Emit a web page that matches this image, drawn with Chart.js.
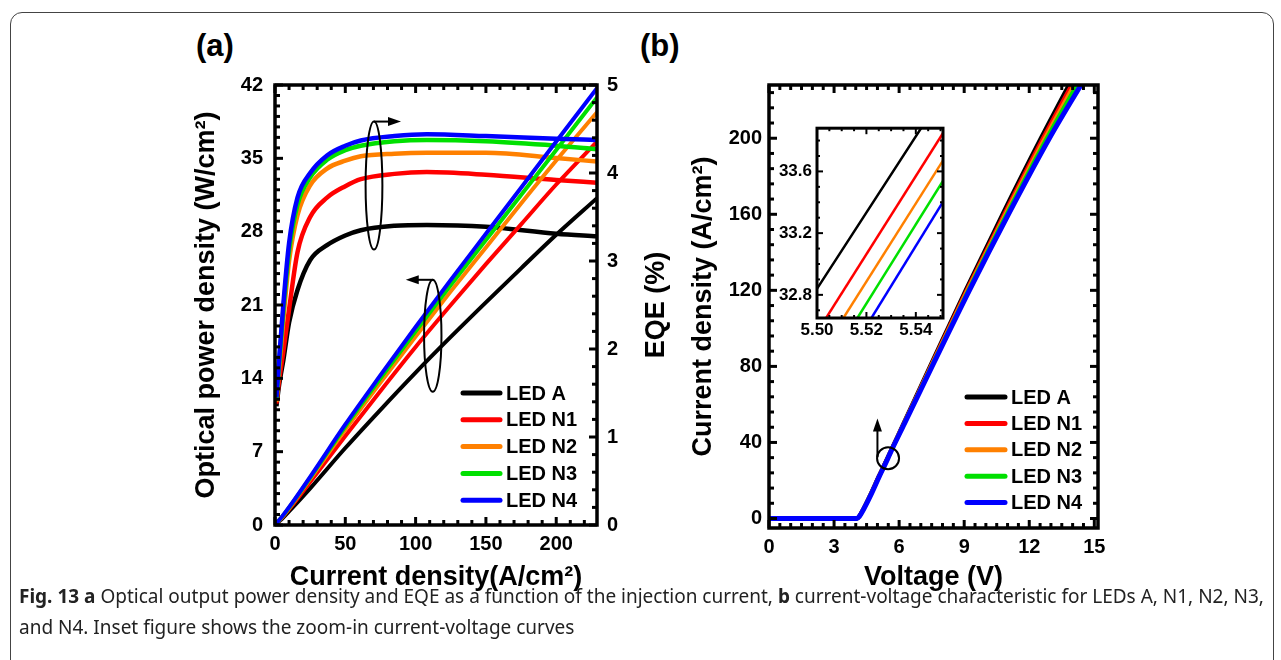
<!DOCTYPE html>
<html>
<head>
<meta charset="utf-8">
<script src="https://cdn.jsdelivr.net/npm/chart.js@4.4.1/dist/chart.umd.min.js"></script>
<style>
  body { margin: 0; width: 1281px; height: 660px; background: #fff; position: relative; overflow: hidden; font-family: "Liberation Sans", Arial, sans-serif; }
  .frame { position: absolute; left: 10px; top: 12px; width: 1262px; height: 700px; border: 1.5px solid #444; border-radius: 12px; }
  canvas { position: absolute; }
  #chartA { left: 150px; top: 60px; }
  #chartB { left: 660px; top: 60px; }
  #inset { left: 757px; top: 113px; }
  .tag { position: absolute; font-weight: bold; font-size: 31px; color: #000; }
  .caption { position: absolute; left: 19px; top: 581px; font-family: "Noto Sans", sans-serif; font-size: 19px; line-height: 31px; color: #222; white-space: nowrap; }
</style>
</head>
<body>
<div class="frame"></div>
<div class="tag" style="left:196px;top:28px">(a)</div>
<div class="tag" style="left:640px;top:28px">(b)</div>
<canvas id="chartA" width="560" height="540"></canvas>
<canvas id="chartB" width="460" height="540"></canvas>
<canvas id="inset" width="200" height="235"></canvas>
<div class="caption"><b>Fig. 13 a</b> Optical output power density and EQE as a function of the injection current, <b>b</b> current-voltage characteristic for LEDs A, N1, N2, N3,<br>and N4. Inset figure shows the zoom-in current-voltage curves</div>

<script>
// LED names and colours
var ledNames = ["LED A", "LED N1", "LED N2", "LED N3", "LED N4"];
var ledColors = ["#000000", "#ff0000", "#ff8000", "#00e000", "#0000ff"];

// (a) optical power density (W/cm2) vs current density
var powCurrent = [0, 5, 10, 25, 50, 75, 100, 125, 150, 175, 200, 229];
var powA  = [0, 0.6, 1.3, 3.5, 7.35, 11.0, 14.55, 17.95, 21.25, 24.5, 27.7, 31.2];
var powN1 = [0, 0.7, 1.5, 4.1, 8.5, 12.8, 17.0, 21.0, 24.9, 28.7, 32.5, 36.6];
var powN2 = [0, 0.75, 1.6, 4.4, 9.1, 13.6, 18.0, 22.3, 26.5, 30.7, 34.8, 39.4];
var powN3 = [0, 0.78, 1.65, 4.5, 9.4, 14.0, 18.5, 22.9, 27.2, 31.5, 35.8, 40.8];
var powN4 = [0, 0.8, 1.7, 4.6, 9.6, 14.3, 18.9, 23.4, 27.8, 32.2, 36.6, 41.7];

// (a) EQE (%) vs current density
var eqeCurrent = [1, 3, 6, 10, 16, 25, 37, 50, 61, 85, 108, 150, 200, 229];
var eqeA  = [1.35, 1.6, 1.88, 2.3, 2.67, 3.01, 3.18, 3.29, 3.35, 3.40, 3.41, 3.39, 3.31, 3.28];
var eqeN1 = [1.38, 1.65, 1.98, 2.45, 3.1, 3.5, 3.72, 3.85, 3.93, 3.99, 4.01, 3.98, 3.92, 3.89];
var eqeN2 = [1.4, 1.8, 2.35, 3.0, 3.52, 3.86, 4.05, 4.14, 4.19, 4.22, 4.23, 4.23, 4.17, 4.13];
var eqeN3 = [1.42, 1.85, 2.45, 3.12, 3.64, 3.95, 4.15, 4.26, 4.31, 4.36, 4.375, 4.36, 4.31, 4.27];
var eqeN4 = [1.45, 1.9, 2.52, 3.2, 3.72, 4.0, 4.2, 4.31, 4.37, 4.42, 4.44, 4.42, 4.39, 4.375];

// (b) current density (A/cm2) vs voltage for each LED
var ivCurrent = [0, 0, 1, 5, 12, 22, 32, 34, 50, 80, 120, 160, 200, 240];
var voltA  = [0, 4.05, 4.15, 4.35, 4.65, 5.05, 5.466, 5.547, 6.2, 7.42, 9.06, 10.76, 12.53, 14.38];
var voltN1 = [0, 4.05, 4.15, 4.35, 4.66, 5.06, 5.478, 5.557, 6.22, 7.45, 9.11, 10.84, 12.63, 14.52];
var voltN2 = [0, 4.05, 4.15, 4.36, 4.67, 5.07, 5.485, 5.564, 6.23, 7.47, 9.15, 10.9, 12.72, 14.65];
var voltN3 = [0, 4.06, 4.16, 4.36, 4.67, 5.08, 5.491, 5.569, 6.24, 7.49, 9.19, 10.96, 12.81, 14.8];
var voltN4 = [0, 4.06, 4.16, 4.37, 4.68, 5.08, 5.497, 5.574, 6.25, 7.52, 9.24, 11.04, 12.93, 15.02];

// tick labels
var curTicks = [0, 50, 100, 150, 200];
var powTicks = [0, 7, 14, 21, 28, 35, 42];
var eqeTicks = [0, 1, 2, 3, 4, 5];
var voltTicks = [0, 3, 6, 9, 12, 15];
var ivTicks = [0, 40, 80, 120, 160, 200];
var insetVoltTicks = [5.50, 5.52, 5.54];
var insetCurTicks = [32.8, 33.2, 33.6];

Chart.defaults.font.family = "'Liberation Sans', Arial, sans-serif";
Chart.defaults.color = "#000";

function pts(xs, ys) {
  return xs.map(function (x, i) { return { x: x, y: ys[i] }; });
}
function fixedTicks(vals) {
  return function (s) { s.ticks = vals.map(function (v) { return { value: v }; }); };
}

// frame + inward ticks on all four sides
var frameTicks = {
  id: "frameTicks",
  afterDatasetsDraw: function (chart, args, o) {
    var a = chart.chartArea, ctx = chart.ctx;
    ctx.save();
    ctx.strokeStyle = "#000";
    ctx.lineWidth = o.tickWidth;
    o.sides.forEach(function (s) {
      var sc = chart.scales[s.scale];
      var n = Math.round((sc.max - s.start) / s.minor);
      for (var k = 0; k <= n; k++) {
        var v = s.start + k * s.minor;
        if (v < sc.min - 1e-9 || v > sc.max + 1e-9) continue;
        var r = v / s.major;
        var len = Math.abs(r - Math.round(r)) < 1e-6 ? o.majorLen : o.minorLen;
        var p = sc.getPixelForValue(v);
        ctx.beginPath();
        if (s.edge === "bottom") { ctx.moveTo(p, a.bottom); ctx.lineTo(p, a.bottom - len); }
        if (s.edge === "top") { ctx.moveTo(p, a.top); ctx.lineTo(p, a.top + len); }
        if (s.edge === "left") { ctx.moveTo(a.left, p); ctx.lineTo(a.left + len, p); }
        if (s.edge === "right") { ctx.moveTo(a.right, p); ctx.lineTo(a.right - len, p); }
        ctx.stroke();
      }
    });
    ctx.lineWidth = o.frameWidth;
    ctx.strokeRect(a.left, a.top, a.right - a.left, a.bottom - a.top);
    ctx.restore();
  }
};

var ledLegend = {
  id: "ledLegend",
  afterDatasetsDraw: function (chart, args, o) {
    var ctx = chart.ctx;
    ctx.save();
    ctx.font = "bold 20px 'Liberation Sans', Arial, sans-serif";
    ctx.textBaseline = "middle";
    ledNames.forEach(function (name, i) {
      var y = o.y + i * o.dy;
      ctx.strokeStyle = ledColors[i];
      ctx.lineWidth = 5;
      ctx.lineCap = "round";
      ctx.beginPath(); ctx.moveTo(o.x, y); ctx.lineTo(o.x + o.len, y); ctx.stroke();
      ctx.fillStyle = "#000";
      ctx.fillText(name, o.x + o.len + 6, y + 1);
    });
    ctx.restore();
  }
};

function arrowHead(ctx, x, y, dx, dy) {
  // filled head pointing along (dx, dy)
  var px = -dy, py = dx;
  ctx.beginPath();
  ctx.moveTo(x, y);
  ctx.lineTo(x - dx * 13 + px * 4.5, y - dy * 13 + py * 4.5);
  ctx.lineTo(x - dx * 13 - px * 4.5, y - dy * 13 - py * 4.5);
  ctx.closePath();
  ctx.fill();
}

function drawLoop(ctx, cx, cy, rx, ry, dir) {
  ctx.save();
  ctx.lineWidth = 2;
  ctx.strokeStyle = "#000";
  ctx.fillStyle = "#000";
  ctx.beginPath(); ctx.ellipse(cx, cy, rx, ry, 0, 0, 2 * Math.PI); ctx.stroke();
  var ty = cy - ry, tx = cx + dir * 27;
  ctx.beginPath(); ctx.moveTo(cx, ty); ctx.lineTo(tx - dir * 8, ty); ctx.stroke();
  arrowHead(ctx, tx, ty, dir, 0);
  ctx.restore();
}

var marksA = {
  id: "marksA",
  afterDatasetsDraw: function (chart) {
    var ctx = chart.ctx, sx = chart.scales.x, sy = chart.scales.y, a = chart.chartArea;
    drawLoop(ctx, sx.getPixelForValue(70.4), sy.getPixelForValue(32.4), 8.4, 64, 1);
    drawLoop(ctx, sx.getPixelForValue(112.2), sy.getPixelForValue(18.06), 8.7, 56, -1);
    // right axis title, reading upwards
    ctx.save();
    ctx.font = "bold 27px 'Liberation Sans', Arial, sans-serif";
    ctx.fillStyle = "#000";
    ctx.textAlign = "center";
    ctx.textBaseline = "middle";
    ctx.translate(507, (a.top + a.bottom) / 2);
    ctx.rotate(-Math.PI / 2);
    ctx.fillText("EQE (%)", 0, 0);
    ctx.restore();
  }
};

var marksB = {
  id: "marksB",
  afterDatasetsDraw: function (chart) {
    var ctx = chart.ctx, sx = chart.scales.x, sy = chart.scales.y;
    ctx.save();
    ctx.lineWidth = 2;
    ctx.strokeStyle = "#000";
    ctx.fillStyle = "#000";
    ctx.beginPath();
    ctx.arc(sx.getPixelForValue(5.49), sy.getPixelForValue(31.7), 11, 0, 2 * Math.PI);
    ctx.stroke();
    var ax = sx.getPixelForValue(5.0), y0 = sy.getPixelForValue(32.4), y1 = sy.getPixelForValue(52.6);
    ctx.beginPath(); ctx.moveTo(ax, y0); ctx.lineTo(ax, y1 + 8); ctx.stroke();
    arrowHead(ctx, ax, y1, 0, -1);
    ctx.restore();
  }
};

var tickFont = { weight: "bold", size: 20 };
var titleFont = { weight: "bold", size: 27 };
var noGrid = { display: false, drawTicks: false };

function lineSet(i, xs, ys, axis, width) {
  return {
    label: ledNames[i],
    data: pts(xs, ys),
    yAxisID: axis,
    borderColor: ledColors[i],
    borderWidth: width,
    pointRadius: 0,
    showLine: true,
    fill: false,
    cubicInterpolationMode: "monotone",
    order: 5 - i
  };
}

// ---------- (a) ----------
var powSets = [powA, powN1, powN2, powN3, powN4];
var eqeSets = [eqeA, eqeN1, eqeN2, eqeN3, eqeN4];
var dsA = [];
powSets.forEach(function (ys, i) { dsA.push(lineSet(i, powCurrent, ys, "y", 4)); });
eqeSets.forEach(function (ys, i) { dsA.push(lineSet(i, eqeCurrent, ys, "y2", 4.5)); });

new Chart(document.getElementById("chartA"), {
  type: "scatter",
  data: { datasets: dsA },
  options: {
    responsive: false,
    animation: false,
    layout: { padding: { top: 25, left: 0, right: 0, bottom: 0 } },
    plugins: {
      legend: { display: false },
      tooltip: { enabled: false },
      frameTicks: {
        tickWidth: 3, frameWidth: 3.5, majorLen: 8, minorLen: 5,
        sides: [
          { scale: "x", edge: "bottom", start: 0, major: 50, minor: 10 },
          { scale: "x", edge: "top", start: 0, major: 50, minor: 10 },
          { scale: "y", edge: "left", start: 0, major: 7, minor: 1 },
          { scale: "y2", edge: "right", start: 0, major: 1, minor: 0.2 }
        ]
      },
      ledLegend: { x: 313, y: 333, dy: 26.8, len: 37 }
    },
    scales: {
      x: {
        type: "linear", position: "bottom", min: 0, max: 229,
        afterBuildTicks: fixedTicks(curTicks),
        afterFit: function (s) { s.height = 75; },
        grid: noGrid, border: { display: false },
        ticks: { font: tickFont, padding: 7, maxRotation: 0 },
        title: { display: true, text: "Current density(A/cm²)", font: titleFont, padding: { top: 0, bottom: 6 } }
      },
      y: {
        type: "linear", position: "left", min: 0, max: 42,
        afterBuildTicks: fixedTicks(powTicks),
        afterFit: function (s) { s.width = 125; },
        grid: noGrid, border: { display: false },
        ticks: { font: tickFont, padding: 12 },
        title: { display: true, text: "Optical power density (W/cm²)", font: titleFont, padding: { top: 40, bottom: 0 } }
      },
      y2: {
        type: "linear", position: "right", min: 0, max: 5,
        afterBuildTicks: fixedTicks(eqeTicks),
        afterFit: function (s) { s.width = 113; },
        grid: noGrid, border: { display: false },
        ticks: { font: tickFont, padding: 10 }
      }
    }
  },
  plugins: [frameTicks, ledLegend, marksA]
});

// ---------- (b) ----------
var voltSets = [voltA, voltN1, voltN2, voltN3, voltN4];
var dsB = voltSets.map(function (xs, i) { return lineSet(i, xs, ivCurrent, "y", i === 4 ? 5 : 4); });

new Chart(document.getElementById("chartB"), {
  type: "scatter",
  data: { datasets: dsB },
  options: {
    responsive: false,
    animation: false,
    layout: { padding: { top: 25, left: 0, right: 22, bottom: 0 } },
    plugins: {
      legend: { display: false },
      tooltip: { enabled: false },
      frameTicks: {
        tickWidth: 3, frameWidth: 3.5, majorLen: 8, minorLen: 5,
        sides: [
          { scale: "x", edge: "bottom", start: 0, major: 3, minor: 0.5 },
          { scale: "x", edge: "top", start: 0, major: 3, minor: 0.5 },
          { scale: "y", edge: "left", start: 0, major: 40, minor: 8 },
          { scale: "y", edge: "right", start: 0, major: 40, minor: 8 }
        ]
      },
      ledLegend: { x: 307, y: 337, dy: 26.4, len: 38 }
    },
    scales: {
      x: {
        type: "linear", position: "bottom", min: 0, max: 15.17,
        afterBuildTicks: fixedTicks(voltTicks),
        afterFit: function (s) { s.height = 72; },
        grid: noGrid, border: { display: false },
        ticks: { font: tickFont, padding: 7, maxRotation: 0 },
        title: { display: true, text: "Voltage (V)", font: titleFont, padding: { top: 0, bottom: 6 } }
      },
      y: {
        type: "linear", position: "left", min: -5, max: 228,
        afterBuildTicks: fixedTicks(ivTicks),
        afterFit: function (s) { s.width = 109; },
        grid: noGrid, border: { display: false },
        ticks: { font: tickFont, padding: 7 },
        title: { display: true, text: "Current density (A/cm²)", font: titleFont, padding: { top: 27, bottom: 0 } }
      }
    }
  },
  plugins: [frameTicks, ledLegend, marksB]
});

// ---------- inset of (b) ----------
var dsI = voltSets.map(function (xs, i) { return lineSet(i, xs, ivCurrent, "y", 2.5); });
dsI.forEach(function (d) { d.cubicInterpolationMode = "default"; d.tension = 0; });

new Chart(document.getElementById("inset"), {
  type: "scatter",
  data: { datasets: dsI },
  options: {
    responsive: false,
    animation: false,
    layout: { padding: { top: 12, left: 0, right: 14, bottom: 0 } },
    plugins: {
      legend: { display: false },
      tooltip: { enabled: false },
      frameTicks: {
        tickWidth: 2, frameWidth: 3, majorLen: 6, minorLen: 3,
        sides: [
          { scale: "x", edge: "bottom", start: 5.5, major: 0.02, minor: 0.005 },
          { scale: "x", edge: "top", start: 5.5, major: 0.02, minor: 0.005 },
          { scale: "y", edge: "left", start: 32.7, major: 0.4, minor: 0.1 },
          { scale: "y", edge: "right", start: 32.7, major: 0.4, minor: 0.1 }
        ]
      }
    },
    scales: {
      x: {
        type: "linear", position: "bottom", min: 5.5, max: 5.551,
        afterBuildTicks: fixedTicks(insetVoltTicks),
        afterFit: function (s) { s.height = 30; },
        grid: noGrid, border: { display: false },
        ticks: { font: { weight: "bold", size: 17 }, padding: 2, maxRotation: 0,
          callback: function (v) { return v.toFixed(2); } }
      },
      y: {
        type: "linear", position: "left", min: 32.65, max: 33.88,
        afterBuildTicks: fixedTicks(insetCurTicks),
        afterFit: function (s) { s.width = 60; },
        grid: noGrid, border: { display: false },
        ticks: { font: { weight: "bold", size: 17 }, padding: 5,
          callback: function (v) { return v.toFixed(1); } }
      }
    }
  },
  plugins: [frameTicks]
});
</script>
</body>
</html>
